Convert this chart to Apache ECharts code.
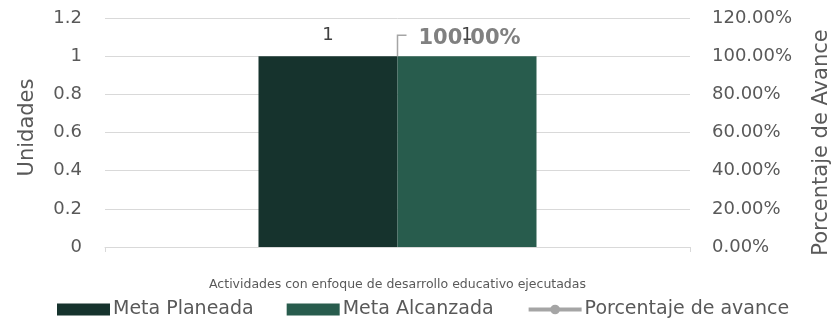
<!DOCTYPE html>
<html>
<head>
<meta charset="utf-8">
<script src="https://cdn.jsdelivr.net/npm/echarts@6/dist/echarts.min.js"></script>
<style>
  html, body { margin: 0; padding: 0; background: #fff; }
  #chart { width: 833px; height: 318px; }
</style>
</head>
<body>
<div id="chart"></div>
<script>
const categories = ["Actividades con enfoque de desarrollo educativo ejecutadas"];
const metaPlaneada = [1];
const metaAlcanzada = [1];
const porcentajeAvance = [1];

const font = "'DejaVu Sans', sans-serif";
const chart = echarts.init(document.getElementById("chart"));

const option = {
  textStyle: { fontFamily: font },
  animation: false,
  grid: { left: 105, right: 143, top: 18, bottom: 71, outerBoundsMode: "none" },
  legend: {
    bottom: -1,
    left: 57,
    padding: 0,
    itemWidth: 53,
    itemHeight: 12,
    itemGap: 33,
    textStyle: { fontFamily: font, fontSize: 19, color: "#595959", padding: [0, 0, 0, -2] },
    data: [
      { name: "Meta Planeada", icon: "rect" },
      { name: "Meta Alcanzada", icon: "rect" },
      {
        name: "Porcentaje de avance",
        itemStyle: { color: "#A5A5A5" },
        lineStyle: { width: 4 }
      }
    ]
  },
  xAxis: {
    type: "category",
    data: categories,
    axisLine: { lineStyle: { color: "#D9D9D9" } },
    axisTick: { show: true, length: 5, lineStyle: { color: "#D9D9D9" } },
    axisLabel: { color: "#595959", fontSize: 12.5, margin: 31 }
  },
  yAxis: [
    {
      type: "value",
      min: 0, max: 1.2, interval: 0.2,
      name: "Unidades",
      nameLocation: "middle",
      nameGap: 67,
      nameTextStyle: { fontSize: 21, color: "#595959", padding: [0, 0, 0, 10] },
      axisLabel: {
        color: "#595959", fontSize: 18, margin: 23,
        formatter: v => String(Math.round(v * 10) / 10)
      },
      splitLine: { lineStyle: { color: "#D9D9D9" } }
    },
    {
      type: "value",
      min: 0, max: 1.2, interval: 0.2,
      name: "Porcentaje de Avance",
      nameLocation: "middle",
      nameGap: 121,
      nameRotate: 90,
      nameTextStyle: { fontSize: 21, color: "#595959", padding: [0, 20, 0, 0] },
      axisLabel: {
        color: "#595959", fontSize: 18, margin: 22,
        formatter: v => (v * 100).toFixed(2) + "%"
      },
      splitLine: { show: false }
    }
  ],
  series: [
    {
      name: "Meta Planeada",
      type: "bar",
      data: metaPlaneada,
      barWidth: 139,
      barGap: "0%",
      itemStyle: { color: "#16332D" },
      label: { show: true, position: "top", distance: 12, color: "#404040", fontSize: 18 }
    },
    {
      name: "Meta Alcanzada",
      type: "bar",
      data: metaAlcanzada,
      barWidth: 139,
      itemStyle: { color: "#285C4D" },
      label: { show: true, position: "top", distance: 12, color: "#404040", fontSize: 18 }
    },
    {
      name: "Porcentaje de avance",
      type: "line",
      yAxisIndex: 1,
      data: porcentajeAvance,
      symbol: "circle",
      symbolSize: 9,
      itemStyle: { color: "rgba(0,0,0,0)" },
      lineStyle: { color: "#A5A5A5", width: 3 },
      z: 5,
      label: {
        show: true,
        position: "inside",
        color: "#808080",
        fontSize: 21,
        fontWeight: "bold",
        formatter: p => (p.value * 100).toFixed(2) + "%"
      },
      labelLayout: p => {
        const cx = p.rect.x + p.rect.width / 2;
        const cy = p.rect.y + p.rect.height / 2;
        return { x: cx + 21, y: cy - 28 };
      }
    }
  ]
};

chart.setOption(option);

// leader line (elbow) from the line point up to the percentage label
const pt = chart.convertToPixel({ seriesIndex: 2 }, [0, porcentajeAvance[0]]);
chart.setOption({
  graphic: [{
    type: "polyline",
    z: 10,
    shape: { points: [[pt[0], pt[1]], [pt[0], pt[1] - 21], [pt[0] + 9, pt[1] - 21]] },
    style: { stroke: "#A5A5A5", lineWidth: 1.5, fill: null }
  }]
});
</script>
</body>
</html>
